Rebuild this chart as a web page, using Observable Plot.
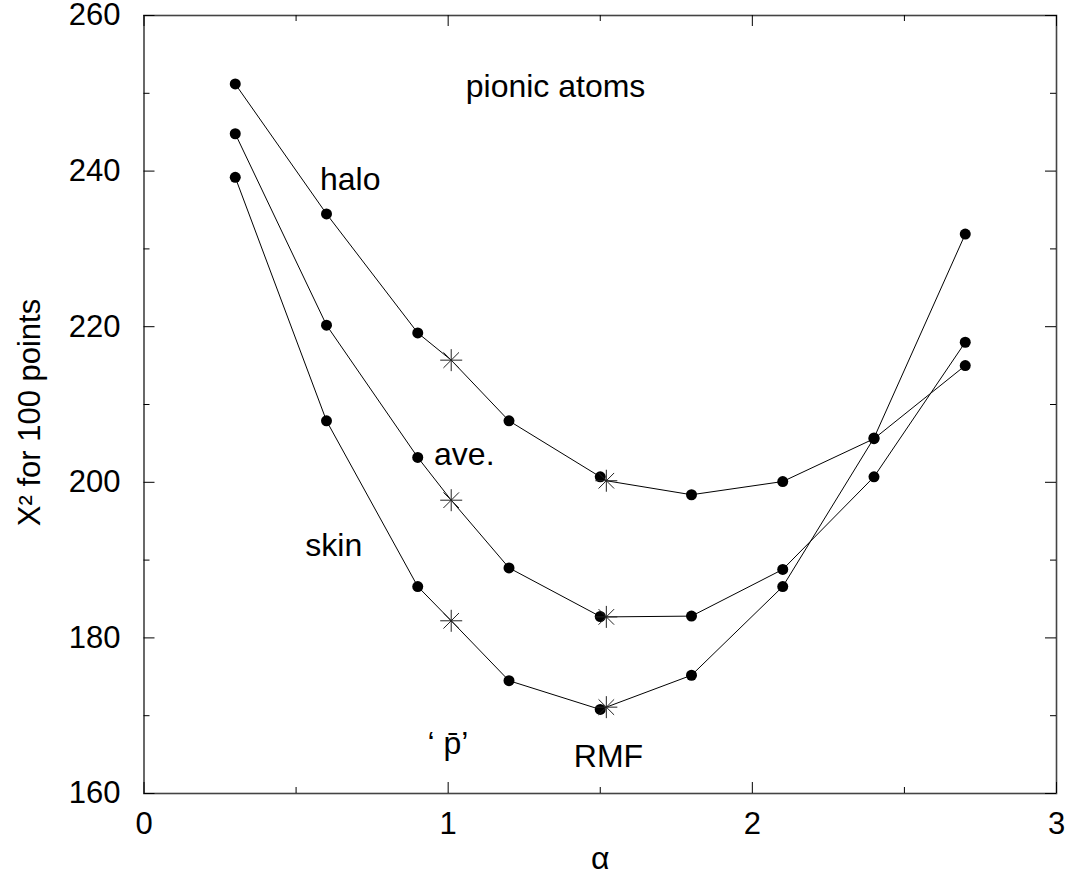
<!DOCTYPE html>
<html><head><meta charset="utf-8">
<script src="https://cdn.jsdelivr.net/npm/d3@7"></script>
<script src="https://cdn.jsdelivr.net/npm/@observablehq/plot@0.6"></script>
<style>body{margin:0;background:#fff} #chart{width:1068px;height:888px}</style>
</head><body><div id="chart"></div>
<script>
// ---- data ----
const alphaValues = [0.3, 0.6, 0.9, 1.2, 1.5, 1.8, 2.1, 2.4, 2.7];
const haloValues  = [251.2, 234.5, 219.2, 207.9, 200.7, 198.4, 200.1, 205.6, 215.0];
const aveValues   = [244.8, 220.2, 203.2, 189.0, 182.75, 182.8, 188.8, 200.7, 218.0];
const skinValues  = [239.2, 207.9, 186.6, 174.5, 170.8, 175.2, 186.6, 205.7, 231.9];
const starAlpha   = [1.01, 1.52];
const haloStars   = [215.7, 200.2];
const aveStars    = [197.7, 182.7];
const skinStars   = [182.2, 171.1];
const xMajorTicks = [0, 1, 2, 3];
const xMinorTicks = [0.5, 1.5, 2.5];
const yMajorTicks = [160, 180, 200, 220, 240, 260];
const yMinorTicks = [170, 190, 210, 230, 250];
const annotationText  = ["pionic atoms", "halo", "ave.", "skin", "\u2018 p\u0304\u2019", "RMF"];
const annotationAlpha = [1.353, 0.678, 1.053, 0.624, 0.999, 1.527];
const annotationChi2  = [250.8, 238.9, 203.5, 191.8, 166.4, 164.7];
const xLabel = "\u03b1";
const yLabel = "X\u00b2 for 100 points";

// ---- tables built from the arrays ----
const seriesDefs = [["halo", haloValues, haloStars], ["ave.", aveValues, aveStars], ["skin", skinValues, skinStars]];
const dotData = [], starData = [], lineData = [];
for (const [name, vals, stars] of seriesDefs) {
  const dots = alphaValues.map((a, i) => ({series: name, alpha: a, chi2: vals[i]}));
  const st = starAlpha.map((a, i) => ({series: name, alpha: a, chi2: stars[i]}));
  dotData.push(...dots);
  starData.push(...st);
  lineData.push(...[...dots, ...st].sort((p, q) => p.alpha - q.alpha));
}
const annotations = annotationText.map((t, i) => ({text: t, alpha: annotationAlpha[i], chi2: annotationChi2[i]}));

// 8-armed asterisk symbol
const asterisk8 = {
  draw(context, size) {
    const r = Math.sqrt(size / Math.PI), d = r * Math.SQRT1_2;
    context.moveTo(-r, 0); context.lineTo(r, 0);
    context.moveTo(0, -r); context.lineTo(0, r);
    context.moveTo(-d, -d); context.lineTo(d, d);
    context.moveTo(-d, d); context.lineTo(d, -d);
  }
};

const W = 1068, H = 888, mL = 143.5, mR = 12, mT = 15, mB = 95;
const innerW = W - mL - mR, innerH = H - mT - mB;
const major = 11, minor = 6;

const chart = Plot.plot({
  width: W, height: H,
  marginLeft: mL, marginRight: mR, marginTop: mT, marginBottom: mB,
  style: {fontFamily: "'Liberation Sans', Arial, Helvetica, sans-serif", fontSize: "31px", background: "white", color: "black", overflow: "visible"},
  x: {domain: [0, 3]},
  y: {domain: [160, 260]},
  marks: [
    Plot.frame({stroke: "#444", strokeWidth: 1.6}),
    Plot.tickX(xMajorTicks, {x: d => d, insetTop: innerH - major, stroke: "black"}),
    Plot.tickX(xMajorTicks, {x: d => d, insetBottom: innerH - major, stroke: "black"}),
    Plot.tickX(xMinorTicks, {x: d => d, insetTop: innerH - minor, stroke: "black"}),
    Plot.tickX(xMinorTicks, {x: d => d, insetBottom: innerH - minor, stroke: "black"}),
    Plot.tickY(yMajorTicks, {y: d => d, insetRight: innerW - major, stroke: "black"}),
    Plot.tickY(yMajorTicks, {y: d => d, insetLeft: innerW - major, stroke: "black"}),
    Plot.tickY(yMinorTicks, {y: d => d, insetRight: innerW - minor, stroke: "black"}),
    Plot.tickY(yMinorTicks, {y: d => d, insetLeft: innerW - minor, stroke: "black"}),
    Plot.axisX({ticks: xMajorTicks, tickSize: 0, tickPadding: 18, tickFormat: d => String(d), label: null, fontSize: 31}),
    Plot.axisY({ticks: yMajorTicks, tickSize: 0, tickPadding: 23.5, tickFormat: d => String(d), label: null, fontSize: 31}),
    Plot.line(lineData, {x: "alpha", y: "chi2", z: "series", stroke: "black", strokeWidth: 1}),
    Plot.dot(dotData, {x: "alpha", y: "chi2", r: 5.5, fill: "black", stroke: "none"}),
    Plot.dot(starData, {x: "alpha", y: "chi2", symbol: asterisk8, r: 11, fill: "none", stroke: "#222", strokeWidth: 1}),
    Plot.text(annotations, {x: "alpha", y: "chi2", text: "text", fontSize: 32, fill: "black"}),
    Plot.text([xLabel], {frameAnchor: "bottom", text: d => d, dy: 75, fontSize: 32, fill: "black"}),
    Plot.text([yLabel], {frameAnchor: "left", textAnchor: "middle", text: d => d, rotate: -90, dx: -113.5, dy: 8, fontSize: 31, fill: "black"})
  ]
});
document.getElementById("chart").append(chart);
</script>
</body></html>
